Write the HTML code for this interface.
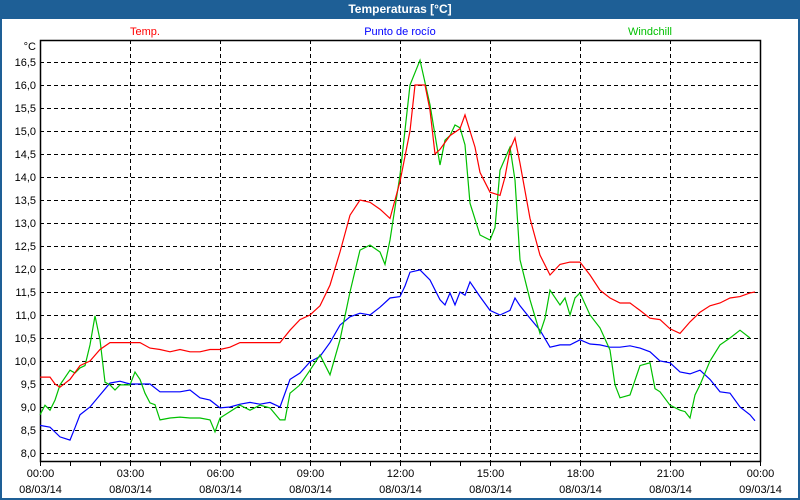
<!DOCTYPE html>
<html><head><meta charset="utf-8"><style>
html,body{margin:0;padding:0;background:#fff}
#win{position:relative;width:800px;height:500px;box-sizing:border-box;border:2px solid #1e5f96;border-top:none;background:#fff;font-family:"Liberation Sans",sans-serif;overflow:hidden}
#title{position:absolute;left:0;top:0;width:796px;height:19px;background:#1e5f96;color:#fff;font-weight:bold;font-size:12px;text-align:center;line-height:19px}
</style></head><body>
<div id="win">
<div id="title">Temperaturas [°C]</div>
<svg id="chart" width="796" height="498" style="position:absolute;left:-2px;top:0"></svg>
</div>
<script>
const yTicks=[8.0,8.5,9.0,9.5,10.0,10.5,11.0,11.5,12.0,12.5,13.0,13.5,14.0,14.5,15.0,15.5,16.0,16.5];
const xTickLabels=["00:00","03:00","06:00","09:00","12:00","15:00","18:00","21:00","00:00"];
const xDateLabels=["08/03/14","08/03/14","08/03/14","08/03/14","08/03/14","08/03/14","08/03/14","08/03/14","09/03/14"];
const tempMin=[0,20,30,40,60,80,100,120,140,160,180,200,220,240,260,280,300,320,340,360,380,400,420,440,460,480,500,520,540,560,580,600,620,640,660,680,700,720,740,750,760,770,780,790,800,820,840,850,860,870,880,900,920,930,940,950,960,980,1000,1020,1040,1060,1080,1100,1120,1140,1160,1180,1200,1220,1240,1260,1280,1300,1320,1340,1360,1380,1400,1420,1430];
const tempVal=[9.65,9.65,9.5,9.43,9.6,9.9,10.0,10.25,10.4,10.4,10.4,10.4,10.28,10.25,10.2,10.25,10.2,10.2,10.25,10.25,10.3,10.4,10.4,10.4,10.4,10.4,10.67,10.9,11.0,11.2,11.65,12.37,13.17,13.5,13.45,13.3,13.1,13.9,15.0,16.0,16.0,16.0,15.45,14.5,14.6,14.9,15.05,15.35,15.0,14.65,14.1,13.67,13.6,14.0,14.6,14.85,14.3,13.1,12.3,11.87,12.1,12.15,12.15,11.87,11.54,11.37,11.26,11.26,11.1,10.93,10.9,10.7,10.6,10.85,11.06,11.2,11.26,11.37,11.4,11.48,11.5];
const dewMin=[0,20,40,60,70,80,100,120,140,160,180,200,220,240,260,280,300,320,340,360,380,400,420,440,460,480,500,520,540,560,580,600,620,640,660,680,700,720,730,740,760,780,800,810,820,830,840,850,860,880,900,920,940,950,960,980,1000,1020,1040,1060,1080,1100,1120,1140,1160,1180,1200,1220,1240,1260,1280,1300,1320,1340,1360,1380,1400,1420,1430];
const dewVal=[8.6,8.56,8.35,8.28,8.55,8.83,9.0,9.26,9.52,9.56,9.5,9.5,9.5,9.33,9.33,9.33,9.37,9.2,9.15,8.98,9.0,9.06,9.1,9.06,9.1,9.0,9.6,9.74,9.98,10.1,10.4,10.78,10.96,11.04,11.0,11.17,11.37,11.4,11.63,11.93,11.98,11.76,11.33,11.22,11.48,11.22,11.5,11.43,11.72,11.4,11.1,11.0,11.1,11.37,11.2,10.93,10.67,10.3,10.35,10.35,10.46,10.37,10.35,10.3,10.3,10.33,10.28,10.2,10.0,9.96,9.76,9.72,9.8,9.6,9.33,9.3,9.0,8.83,8.7];
const windMin=[0,10,20,30,40,60,70,80,90,100,110,120,130,140,150,160,170,180,190,200,210,220,230,240,260,280,300,320,340,350,360,380,400,420,440,460,480,490,500,520,540,560,580,600,620,640,660,680,690,700,720,740,760,780,800,810,820,830,840,850,860,880,900,910,920,940,950,960,980,1000,1010,1020,1040,1050,1060,1070,1080,1100,1120,1140,1150,1160,1180,1200,1220,1230,1240,1260,1280,1290,1300,1310,1320,1340,1360,1380,1400,1420,1430];
const windVal=[8.83,9.04,8.93,9.15,9.48,9.8,9.74,9.85,9.9,10.35,10.98,10.46,9.54,9.48,9.37,9.48,9.48,9.48,9.76,9.6,9.3,9.09,9.05,8.72,8.76,8.78,8.76,8.76,8.72,8.46,8.76,8.9,9.04,8.93,9.04,8.98,8.72,8.72,9.3,9.48,9.8,10.13,9.7,10.46,11.5,12.41,12.52,12.37,12.1,12.63,14.04,16.0,16.54,15.57,14.26,14.8,14.9,15.13,15.07,14.7,13.43,12.74,12.63,12.9,14.15,14.65,13.93,12.2,11.33,10.6,10.93,11.54,11.22,11.37,11.0,11.37,11.48,11.0,10.72,10.24,9.48,9.2,9.26,9.9,9.96,9.4,9.33,9.04,8.93,8.9,8.76,9.26,9.48,10.0,10.35,10.5,10.67,10.5];
const L=40,R=760,T=40,B=461,Y0=453,PER=46;
const X=m=>L+(m/1440)*(R-L);
const Y=v=>Y0-(v-8)*PER;
const svg=document.getElementById('chart');
const NS='http://www.w3.org/2000/svg';
function mk(tag,a){const e=document.createElementNS(NS,tag);for(const k in a)e.setAttribute(k,a[k]);svg.appendChild(e);return e;}
yTicks.forEach(v=>{const e=mk('line',{x1:L,x2:R,y1:Y(v)+0.5,y2:Y(v)+0.5,stroke:'#000','stroke-dasharray':'4,3','stroke-width':1});

const t=mk('text',{x:36,y:Y(v)+4,'text-anchor':'end','font-size':11,fill:'#000','font-family':'Liberation Sans,sans-serif'});t.textContent=v.toFixed(1).replace('.',',');
});
xTickLabels.forEach((s,i)=>{const x=Math.round(X(i*180))+0.5;
if(i>0&&i<8){const g=mk('line',{x1:x,x2:x,y1:T,y2:B,stroke:'#000','stroke-dasharray':'4,3'});}
const t=mk('text',{x:x,y:477,'text-anchor':'middle','font-size':11,fill:'#000','font-family':'Liberation Sans,sans-serif'});t.textContent=s;

const d=mk('text',{x:x,y:493,'text-anchor':'middle','font-size':11,fill:'#000','font-family':'Liberation Sans,sans-serif'});d.textContent=xDateLabels[i];
});
for(let h=0;h<=24;h++){const x=Math.round(X(h*60))+0.5;const tk=mk('line',{x1:x,x2:x,y1:B,y2:B+5,stroke:'#000'});}
const fr=mk('rect',{x:L+0.5,y:T+0.5,width:R-L,height:B-T,fill:'none',stroke:'#000','stroke-width':1.5});

const u=mk('text',{x:36,y:50,'text-anchor':'end','font-size':11,fill:'#000','font-family':'Liberation Sans,sans-serif'});u.textContent='°C';

function series(ms,vs,col,name){const p=mk('polyline',{points:ms.map((m,i)=>X(m).toFixed(1)+','+Y(vs[i]).toFixed(1)).join(' '),fill:'none',stroke:col,'stroke-width':1.2});
}
series(dewMin,dewVal,'#0000ff','dewpoint-line');
series(windMin,windVal,'#00c000','windchill-line');
series(tempMin,tempVal,'#ff0000','temp-line');
[['Temp.',145,'#ff0000','legend-temp'],['Punto de rocío',400,'#0000ff','legend-dewpoint'],['Windchill',650,'#00c000','legend-windchill']].forEach(a=>{
const t=mk('text',{x:a[1],y:35,'text-anchor':'middle','font-size':11,fill:a[2],'font-family':'Liberation Sans,sans-serif'});t.textContent=a[0];
});
</script>
</body></html>
